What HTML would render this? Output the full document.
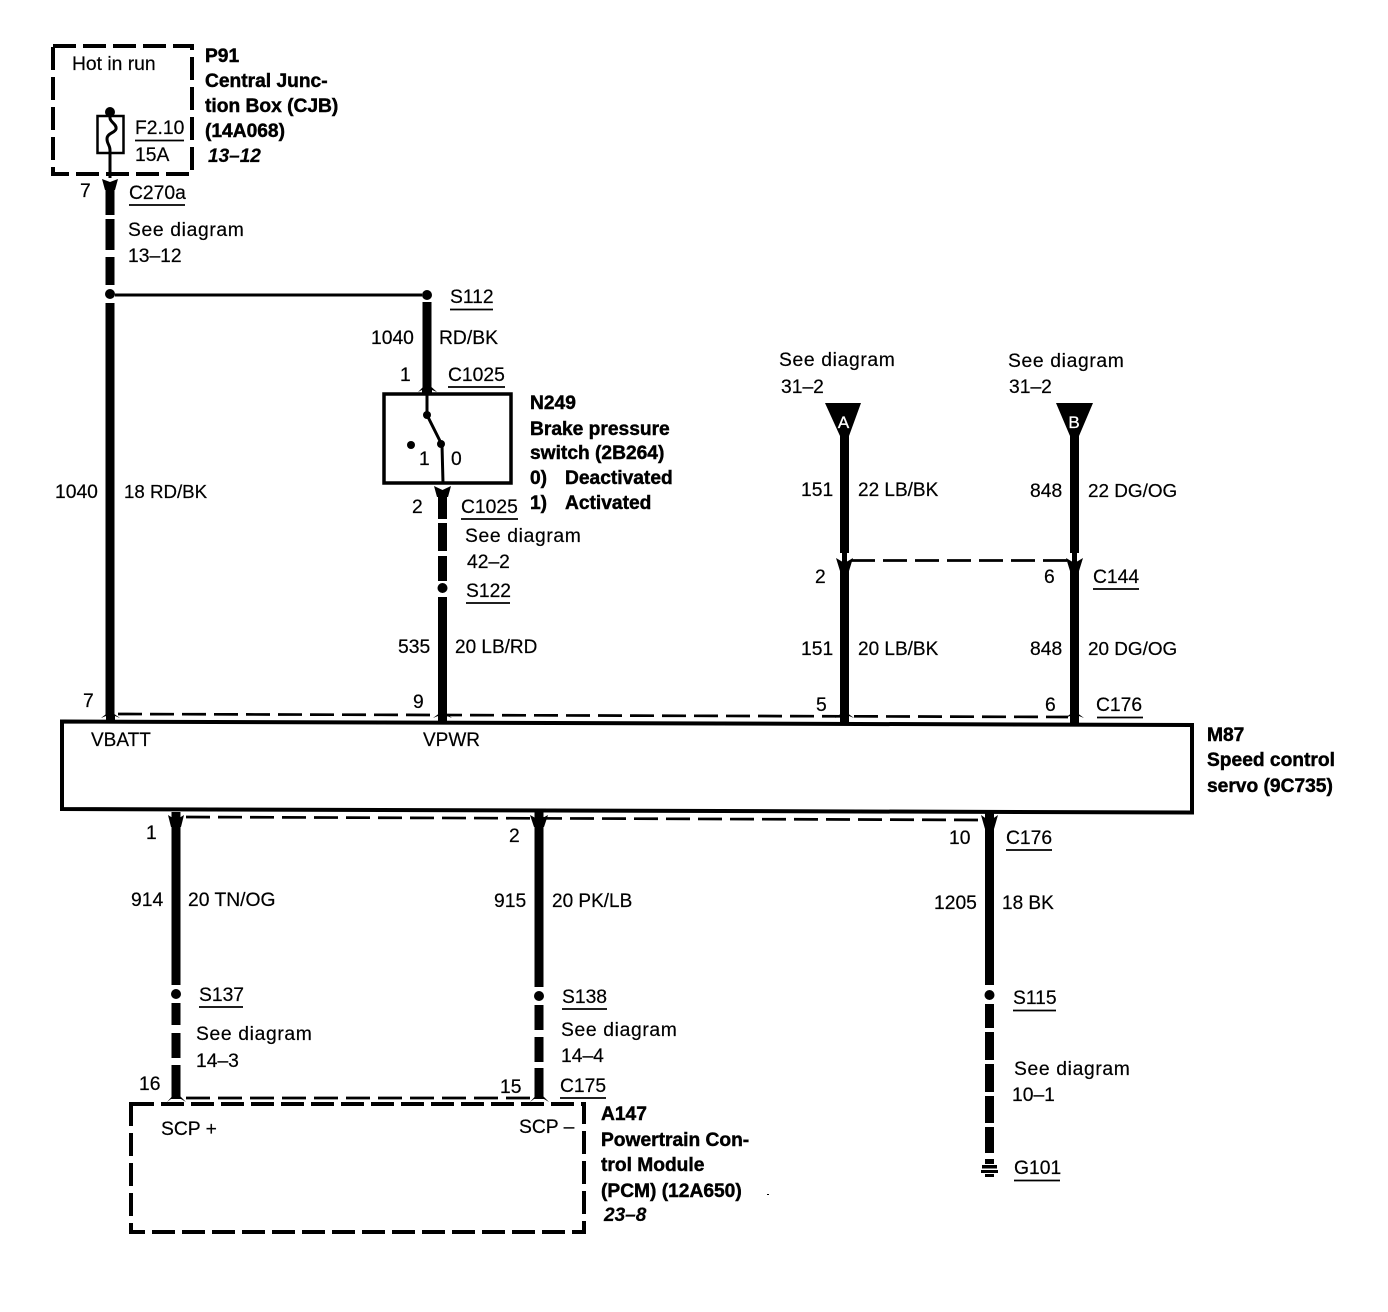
<!DOCTYPE html>
<html>
<head>
<meta charset="utf-8">
<style>
html,body{margin:0;padding:0;background:#fff;width:1388px;height:1312px;overflow:hidden}
svg{display:block}
text{font-family:"Liberation Sans",sans-serif;font-size:19.3px;fill:#000;stroke:#000;stroke-width:.2}
.s{letter-spacing:.65px}
.b{font-weight:bold;font-size:19.2px;stroke-width:.45}
.i{font-weight:bold;font-style:italic;font-size:19px}
.w{stroke:#000;stroke-width:9;fill:none}
.t{stroke:#000;stroke-width:3;fill:none}
.u{stroke:#000;stroke-width:1.7;fill:none}
.d{stroke:#000;stroke-width:2.7;fill:none;stroke-dasharray:24 8}
.bx{stroke:#000;stroke-width:4;fill:none;stroke-dasharray:23 7}
</style>
</head>
<body>
<svg width="1388" height="1312" viewBox="0 0 1388 1312" xmlns="http://www.w3.org/2000/svg">
<rect width="1388" height="1312" fill="#fff"/>

<!-- P91 -->
<path class="bx" d="M53 46H192V174H53Z"/>
<circle cx="110" cy="112" r="5"/>
<rect x="97.500" y="116" width="26" height="37" fill="none" stroke="#000" stroke-width="2.500"/>
<path class="t" stroke-width="2.500" d="M110 112V118C110 122 117 124 116 129C115 133 107 133 107 139C107 144 110 145 110 150V178"/>
<path class="u" d="M135 140.500H184"/>
<path d="M102 179L110 182L118 179L115 190H105Z"/>
<path class="w" d="M110 183V215M110 219V250M110 257V285M110 303V716"/>
<circle cx="110" cy="294" r="5"/>
<path class="t" stroke-width="2.200" d="M115 295H422"/>

<!-- switch branch -->
<circle cx="427" cy="295" r="5"/>
<path class="w" d="M427 302V388"/>
<path d="M418 392L427 383L437 392L432 390V394H422V390Z"/>
<rect x="384" y="394" width="127" height="89" fill="none" stroke="#000" stroke-width="3.500"/>
<path class="t" d="M427 394V415L442 445L443 483"/>
<circle cx="427" cy="415" r="4"/>
<circle cx="441" cy="444" r="4"/>
<circle cx="411" cy="445" r="4"/>
<path d="M434 486L442.500 490L451 486L448 497H437Z"/>
<path class="w" d="M442.500 491V519M442.500 523V551M442.500 556V581M442.500 597V716"/>
<circle cx="442.500" cy="588" r="5"/>

<!-- A and B -->
<path d="M825 403H861L849 436V444H840V436Z"/>
<path d="M1056 403H1093L1079 436V444H1070V436Z"/>
<path class="w" d="M844.500 430V553M844.500 564V716"/>
<path class="w" d="M1074.500 430V553M1074.500 564V716"/>
<path stroke="#000" stroke-width="5" fill="none" d="M844.500 550V568M1074.500 550V568"/>
<path d="M836 558L844.500 563L853 558L849 571H840Z"/>
<path d="M1066 558L1074.500 563L1083 558L1079 571H1070Z"/>
<path class="d" d="M851 560.500H1068"/>
<text x="843.500" y="428" text-anchor="middle" style="fill:#fff;stroke:#fff;font-size:17px;stroke-width:.3">A</text>
<text x="1074" y="428" text-anchor="middle" style="fill:#fff;stroke:#fff;font-size:17px;stroke-width:.3">B</text>

<!-- main box -->
<path d="M62 721.500L1192 725V812.500L62 809Z" fill="none" stroke="#000" stroke-width="4"/>
<path class="d" d="M118 714L1068 717"/>
<path class="d" d="M186 817L984 820"/>
<path d="M101 718L110 711L120 718L115 716V723H106V716Z"/>
<path d="M433 718L442.500 711L452 718L447 716V723H438V716Z"/>
<path d="M835 718L844.500 711L854 718L849 716V725H840V716Z"/>
<path d="M1065 718L1074.500 711L1084 718L1079 716V726H1070V716Z"/>

<!-- lower wires -->
<path class="w" d="M176 812V985M176 1003V1025M176 1033V1058M176 1065V1098"/>
<circle cx="176" cy="994" r="5"/>
<path d="M168 815L176 820L184 815L181 827H171Z"/>
<path d="M167 1102L176 1092L186 1102L181 1099H171Z"/>
<path class="w" d="M539 812V987M539 1005V1030M539 1037V1062M539 1068V1098"/>
<circle cx="539" cy="996" r="5"/>
<path d="M530 815L539 820L548 815L544 827H534Z"/>
<path d="M530 1102L539 1092L549 1102L544 1099H534Z"/>
<path class="w" d="M989.500 812V985M989.500 1004V1028M989.500 1032V1060M989.500 1064V1092M989.500 1096V1123M989.500 1127V1153"/>
<circle cx="989.500" cy="995" r="5"/>
<path d="M981 815L989.500 821L998 815L994 829H985Z"/>
<path d="M985 1159H994V1164H985ZM982 1165H997V1168.500H982ZM981 1170H998V1173H981ZM985 1174H994V1177H985Z"/>
<path class="d" d="M186 1098H530"/>
<path class="bx" d="M131 1104H584V1232H131Z"/>
<rect x="767" y="1194" width="2" height="1"/>

<!-- P91 text -->
<text x="72" y="70">Hot in run</text>
<text class="b" x="205" y="62">P91</text>
<text class="b" x="205" y="87">Central Junc-</text>
<text class="b" x="205" y="112">tion Box (CJB)</text>
<text class="b" x="205" y="137">(14A068)</text>
<text class="i" x="208" y="162">13–12</text>
<text x="135" y="134">F2.10</text>
<text x="135" y="161">15A</text>
<text x="80" y="197">7</text>
<text x="129" y="199">C270a</text><path class="u" d="M129 205H185"/>
<text class="s" x="128" y="236">See diagram</text>
<text x="128" y="262">13–12</text>
<text x="55" y="498">1040</text>
<text x="124" y="498" style="font-size:18.7px">18 RD/BK</text>

<!-- switch text -->
<text x="450" y="303">S112</text><path class="u" d="M450 309.500H493"/>
<text x="371" y="344">1040</text>
<text x="439" y="344">RD/BK</text>
<text x="400" y="381">1</text>
<text x="448" y="381">C1025</text><path class="u" d="M448 387H505"/>
<text class="b" x="530" y="409">N249</text>
<text class="b" x="530" y="435">Brake pressure</text>
<text class="b" x="530" y="459">switch (2B264)</text>
<text class="b" x="530" y="484">0)</text>
<text class="b" x="565" y="484">Deactivated</text>
<text class="b" x="530" y="509">1)</text>
<text class="b" x="565" y="509">Activated</text>
<text x="419" y="465">1</text>
<text x="451" y="465">0</text>
<text x="412" y="513">2</text>
<text x="461" y="513">C1025</text><path class="u" d="M461 519H518"/>
<text class="s" x="465" y="542">See diagram</text>
<text x="467" y="568">42–2</text>
<text x="466" y="597">S122</text><path class="u" d="M466 603H510"/>
<text x="398" y="653">535</text>
<text x="455" y="653" style="font-size:19px">20 LB/RD</text>
<text x="83" y="707">7</text>
<text x="413" y="708">9</text>

<!-- A/B text -->
<text class="s" x="779" y="366">See diagram</text>
<text x="781" y="393">31–2</text>
<text class="s" x="1008" y="367">See diagram</text>
<text x="1009" y="393">31–2</text>
<text x="801" y="496">151</text>
<text x="858" y="496" style="font-size:19px">22 LB/BK</text>
<text x="1030" y="497">848</text>
<text x="1088" y="497" style="font-size:18.9px">22 DG/OG</text>
<text x="815" y="583">2</text>
<text x="1044" y="583">6</text>
<text x="1093" y="583">C144</text><path class="u" d="M1093 589H1139"/>
<text x="801" y="655">151</text>
<text x="858" y="655" style="font-size:19px">20 LB/BK</text>
<text x="1030" y="655">848</text>
<text x="1088" y="655" style="font-size:18.9px">20 DG/OG</text>
<text x="816" y="711">5</text>
<text x="1045" y="711">6</text>
<text x="1096" y="711">C176</text><path class="u" d="M1097 717.500H1143"/>

<!-- main text -->
<text x="91" y="746" style="font-size:19px">VBATT</text>
<text x="423" y="746" style="font-size:19px">VPWR</text>
<text class="b" x="1207" y="741">M87</text>
<text class="b" x="1207" y="766">Speed control</text>
<text class="b" x="1207" y="792">servo (9C735)</text>

<!-- lower text -->
<text x="146" y="839">1</text>
<text x="509" y="842">2</text>
<text x="949" y="844">10</text>
<text x="1006" y="844">C176</text><path class="u" d="M1006 850H1052"/>
<text x="131" y="906">914</text>
<text x="188" y="906">20 TN/OG</text>
<text x="494" y="907">915</text>
<text x="552" y="907" style="font-size:19px">20 PK/LB</text>
<text x="934" y="909">1205</text>
<text x="1002" y="909" style="font-size:19px">18 BK</text>
<text x="199" y="1001">S137</text><path class="u" d="M199 1007H243"/>
<text class="s" x="196" y="1040">See diagram</text>
<text x="196" y="1067">14–3</text>
<text x="139" y="1090">16</text>
<text x="500" y="1093">15</text>
<text x="562" y="1003">S138</text><path class="u" d="M562 1009H607"/>
<text class="s" x="561" y="1036">See diagram</text>
<text x="561" y="1062">14–4</text>
<text x="560" y="1092">C175</text><path class="u" d="M560 1098H606"/>
<text x="1013" y="1004">S115</text><path class="u" d="M1013 1010.500H1056"/>
<text class="s" x="1014" y="1075">See diagram</text>
<text x="1012" y="1101">10–1</text>
<text x="1014" y="1174">G101</text><path class="u" d="M1014 1180.500H1060"/>
<text x="161" y="1135">SCP +</text>
<text x="519" y="1133">SCP –</text>
<text class="b" x="601" y="1120">A147</text>
<text class="b" x="601" y="1146">Powertrain Con-</text>
<text class="b" x="601" y="1171">trol Module</text>
<text class="b" x="601" y="1197">(PCM) (12A650)</text>
<text class="i" x="604" y="1221">23–8</text>
</svg>
</body>
</html>
